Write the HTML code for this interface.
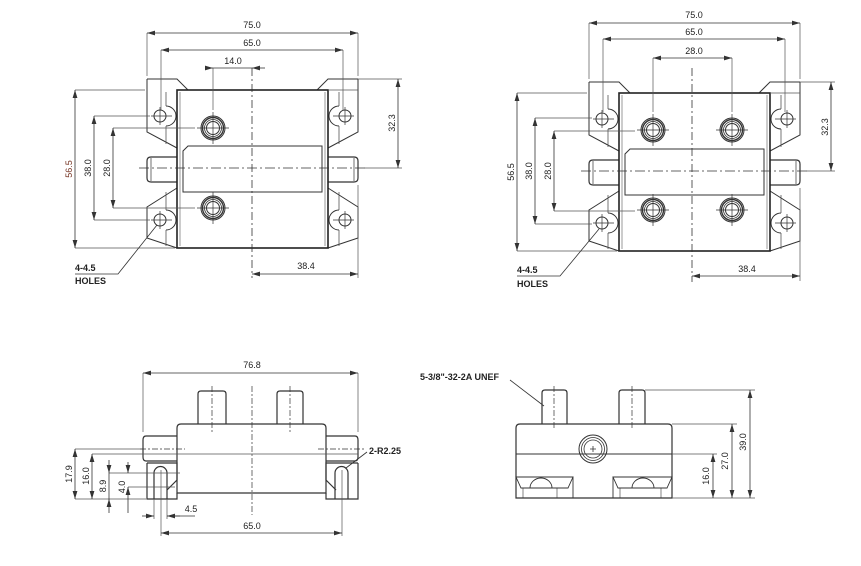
<!DOCTYPE html>
<html><head><meta charset="utf-8"><style>
html,body{margin:0;padding:0;background:#fff;}
svg{display:block;}
text{font-family:"Liberation Sans",sans-serif;font-size:9px;fill:#222;}
.b{font-weight:bold;}
</style></head><body>
<svg width="861" height="566" viewBox="0 0 861 566" xmlns="http://www.w3.org/2000/svg">
<defs>
<marker id="a" viewBox="0 0 10 6" refX="10" refY="3" markerWidth="8" markerHeight="5" orient="auto-start-reverse" markerUnits="userSpaceOnUse"><path d="M0,0 L10,3 L0,6 z" fill="#333"/></marker>
<g id="half">
 <path d="M147,79 L177,79 L188,90 M147,79 L147,132 L177,148 M177,188 L147,207 L147,238 L177,248" fill="none" stroke="#333" stroke-width="1"/>
 <circle cx="160" cy="116" r="6" fill="none" stroke="#333"/>
 <path d="M166,106 A10 10 0 0 1 166,126" fill="none" stroke="#333"/>
 <path d="M166,92 L166,106 M166,126 L166,144" stroke="#555" stroke-width="0.8"/>
 <circle cx="160" cy="220" r="6" fill="none" stroke="#333"/>
 <path d="M166,210 A10 10 0 0 1 166,230" fill="none" stroke="#333"/>
 <path d="M166,192 L166,210 M166,230 L166,246" stroke="#555" stroke-width="0.8"/>
 <path d="M151,116 L172,116 M160,107 L160,125 M151,220 L172,220 M160,211 L160,229" stroke="#333" stroke-width="0.7"/>
 <path d="M177,157 L151,157 Q147,157 147,161 L147,178 Q147,182 151,182 L177,182" fill="none" stroke="#333" stroke-width="1.2"/>
 <path d="M151,158 L151,181" stroke="#333" stroke-width="0.7"/>
</g>
<g id="tv">
 <use href="#half"/>
 <use href="#half" transform="matrix(-1,0,0,1,505,0)"/>
 <rect x="177" y="90" width="151" height="158" fill="none" stroke="#222" stroke-width="1.6"/>
 <path d="M180,92 L180,246 M325,92 L325,246" stroke="#555" stroke-width="0.6"/>
 <path d="M188,146 L322,146 L322,192 L183,192 L183,151 Z" fill="none" stroke="#333" stroke-width="1"/>
 <path d="M139,168 L366,168" stroke="#333" stroke-width="0.8" stroke-dasharray="10,3,2,3"/>
</g>
<g id="term">
 <circle r="12" fill="none" stroke="#333" stroke-width="1"/>
 <circle r="10.5" fill="none" stroke="#333" stroke-width="1.4"/>
 <circle r="8.5" fill="none" stroke="#333" stroke-width="0.8"/>
 <circle r="6.5" fill="none" stroke="#333" stroke-width="1"/>
 <path d="M-16,0 L16,0 M0,-16 L0,16" stroke="#333" stroke-width="0.7"/>
</g>
</defs>

<!-- ===== TOP LEFT ===== -->
<use href="#tv"/>
<use href="#term" x="213" y="128"/>
<use href="#term" x="213" y="208"/>
<path d="M252,68 L252,278" stroke="#333" stroke-width="0.8" stroke-dasharray="8,3,2,3"/>
<g stroke="#555" stroke-width="0.7" fill="none">
 <path d="M147,33 L147,76 M358,33 L358,76 M161,50 L161,110 M343,50 L343,110 M213,68 L213,110"/>
 <path d="M75,90 L145,90 M75,248 L175,248 M94,116 L150,116 M94,220 L150,220 M113,128 L195,128 M113,208 L195,208"/>
 <path d="M358,79 L402,79 M364,168 L402,168 M358,185 L358,278 M328,90 L358,90"/>
</g>
<g stroke="#333" stroke-width="0.8" fill="none">
 <path d="M147,33 L358,33" marker-start="url(#a)" marker-end="url(#a)"/>
 <path d="M161,50 L343,50" marker-start="url(#a)" marker-end="url(#a)"/>
 <path d="M207,68 L213,68" marker-end="url(#a)"/>
 <path d="M265,68 L252,68" marker-end="url(#a)"/>
 <path d="M213,68 L252,68"/>
 <path d="M75,90 L75,248" marker-start="url(#a)" marker-end="url(#a)"/>
 <path d="M94,116 L94,220" marker-start="url(#a)" marker-end="url(#a)"/>
 <path d="M113,128 L113,208" marker-start="url(#a)" marker-end="url(#a)"/>
 <path d="M398,79 L398,168" marker-start="url(#a)" marker-end="url(#a)"/>
 <path d="M252,274 L358,274" marker-start="url(#a)" marker-end="url(#a)"/>
 <path d="M157,225 L118,274 L75,274"/>
</g>
<text x="252" y="28" text-anchor="middle">75.0</text>
<text x="252" y="46" text-anchor="middle">65.0</text>
<text x="233" y="64" text-anchor="middle">14.0</text>
<text x="306" y="269" text-anchor="middle">38.4</text>
<text transform="translate(72,169) rotate(-90)" text-anchor="middle" style="fill:#7a3a2a">56.5</text>
<text transform="translate(91,168) rotate(-90)" text-anchor="middle">38.0</text>
<text transform="translate(110,168) rotate(-90)" text-anchor="middle">28.0</text>
<text transform="translate(395,123) rotate(-90)" text-anchor="middle">32.3</text>
<text x="75" y="271" class="b">4-4.5</text>
<text x="75" y="284" class="b">HOLES</text>

<!-- ===== TOP RIGHT ===== -->
<use href="#tv" transform="translate(442,3)"/>
<use href="#term" x="653" y="130"/>
<use href="#term" x="732" y="130"/>
<use href="#term" x="653" y="210"/>
<use href="#term" x="732" y="210"/>
<path d="M692,68 L692,282" stroke="#333" stroke-width="0.8" stroke-dasharray="8,3,2,3"/>
<g stroke="#555" stroke-width="0.7" fill="none">
 <path d="M589,23 L589,79 M800,23 L800,79 M603,39 L603,112 M785,39 L785,112 M653,58 L653,112 M732,58 L732,112"/>
 <path d="M517,93 L587,93 M517,251 L617,251 M535,118 L592,118 M535,224 L592,224 M554,131 L635,131 M554,211 L635,211"/>
 <path d="M800,82 L835,82 M806,171 L835,171 M800,188 L800,281 M770,93 L800,93"/>
</g>
<g stroke="#333" stroke-width="0.8" fill="none">
 <path d="M589,23 L800,23" marker-start="url(#a)" marker-end="url(#a)"/>
 <path d="M603,39 L785,39" marker-start="url(#a)" marker-end="url(#a)"/>
 <path d="M653,58 L732,58" marker-start="url(#a)" marker-end="url(#a)"/>
 <path d="M517,93 L517,251" marker-start="url(#a)" marker-end="url(#a)"/>
 <path d="M535,118 L535,224" marker-start="url(#a)" marker-end="url(#a)"/>
 <path d="M554,131 L554,211" marker-start="url(#a)" marker-end="url(#a)"/>
 <path d="M831,82 L831,171" marker-start="url(#a)" marker-end="url(#a)"/>
 <path d="M692,276 L800,276" marker-start="url(#a)" marker-end="url(#a)"/>
 <path d="M599,229 L560,276 L517,276"/>
</g>
<text x="694" y="18" text-anchor="middle">75.0</text>
<text x="694" y="35" text-anchor="middle">65.0</text>
<text x="694" y="54" text-anchor="middle">28.0</text>
<text x="747" y="272" text-anchor="middle">38.4</text>
<text transform="translate(514,172) rotate(-90)" text-anchor="middle">56.5</text>
<text transform="translate(532,171) rotate(-90)" text-anchor="middle">38.0</text>
<text transform="translate(551,171) rotate(-90)" text-anchor="middle">28.0</text>
<text transform="translate(828,127) rotate(-90)" text-anchor="middle">32.3</text>
<text x="517" y="273" class="b">4-4.5</text>
<text x="517" y="287" class="b">HOLES</text>

<!-- ===== BOTTOM LEFT ===== -->
<g stroke="#333" fill="none" stroke-width="1.2">
 <path d="M177,493 L177,428 Q177,424 181,424 L322,424 Q326,424 326,428 L326,493 Z"/>
 <path d="M198,424 L198,394 Q198,391 201,391 L223,391 Q226,391 226,394 L226,424"/>
 <path d="M277,424 L277,394 Q277,391 280,391 L300,391 Q303,391 303,394 L303,424"/>
 <path d="M177,436 L146,436 Q143,436 143,440 L143,457 Q143,461 146,461 L177,461"/>
 <path d="M326,436 L355,436 Q358,436 358,440 L358,457 Q358,461 355,461 L326,461"/>
 <path d="M147,463 L177,463 L177,480 L167,490 M147,463 L147,499 L177,499 L177,493"/>
 <path d="M358,463 L326,463 L326,480 L336,490 M358,463 L358,499 L326,499 L326,493"/>
 <path d="M154,499 L154,473 A6.5 6.5 0 0 1 167,473 L167,499"/>
 <path d="M335,499 L335,473 A6.5 6.5 0 0 1 348,473 L348,499"/>
</g>
<g stroke="#333" stroke-width="0.7" fill="none" stroke-dasharray="6,2,2,2">
 <path d="M212,386 L212,432 M290,386 L290,432 M252,386 L252,515"/>
 <path d="M140,449 L185,449 M318,449 L364,449"/>
</g>
<g stroke="#555" stroke-width="0.7" fill="none">
 <path d="M143,373 L143,432 M358,373 L358,432"/>
 <path d="M75,449 L142,449 M92,454 L358,454 M75,499 L146,499 M109,473 L180,473 M128,487 L175,487"/>
 <path d="M154,499 L154,519 M167,499 L167,519 M161,470 L161,536 M342,470 L342,536"/>
</g>
<g stroke="#333" stroke-width="0.8" fill="none">
 <path d="M143,373 L358,373" marker-start="url(#a)" marker-end="url(#a)"/>
 <path d="M75,449 L75,499" marker-start="url(#a)" marker-end="url(#a)"/>
 <path d="M92,454 L92,499" marker-start="url(#a)" marker-end="url(#a)"/>
 <path d="M109,460 L109,473" marker-end="url(#a)"/><path d="M109,513 L109,499" marker-end="url(#a)"/><path d="M109,473 L109,499"/>
 <path d="M128,462 L128,473" marker-end="url(#a)"/><path d="M128,513 L128,487" marker-end="url(#a)"/>
 <path d="M142,516 L154,516" marker-end="url(#a)"/><path d="M180,516 L167,516" marker-end="url(#a)"/><path d="M167,516 L195,516"/>
 <path d="M161,533 L342,533" marker-start="url(#a)" marker-end="url(#a)"/>
 <path d="M367,452 L346,468"/>
</g>
<text x="252" y="368" text-anchor="middle">76.8</text>
<text x="191" y="512" text-anchor="middle">4.5</text>
<text x="252" y="529" text-anchor="middle">65.0</text>
<text x="369" y="454" class="b">2-R2.25</text>
<text transform="translate(72,474) rotate(-90)" text-anchor="middle">17.9</text>
<text transform="translate(89,476) rotate(-90)" text-anchor="middle">16.0</text>
<text transform="translate(106,486) rotate(-90)" text-anchor="middle">8.9</text>
<text transform="translate(125,487) rotate(-90)" text-anchor="middle">4.0</text>

<!-- ===== BOTTOM RIGHT ===== -->
<g stroke="#333" fill="none" stroke-width="1.2">
 <path d="M516,498 L516,428 Q516,424 520,424 L668,424 Q672,424 672,428 L672,498 Z"/>
 <path d="M516,454 L672,454" stroke-width="1"/>
 <path d="M542,424 L542,393 Q542,390 545,390 L564,390 Q567,390 567,393 L567,424"/>
 <path d="M619,424 L619,393 Q619,390 622,390 L642,390 Q645,390 645,393 L645,424"/>
 <path d="M516,477 L573,477 L568,488 L521,488 Z M613,477 L672,477 L667,488 L618,488 Z" stroke-width="0.9"/>
 <path d="M530,488 A11 10 0 0 1 552,488 M632,488 A11 10 0 0 1 654,488" stroke-width="0.9"/>
 <path d="M523,488 L523,498 M557,488 L557,498 M620,488 L620,498 M661,488 L661,498" stroke-width="0.6"/>
 <path d="M573,477 L573,498 M613,477 L613,498" stroke-width="0.9"/>
 <circle cx="593" cy="449" r="14" stroke-width="1"/>
 <circle cx="593" cy="449" r="11.5" stroke-width="0.8"/>
 <circle cx="593" cy="449" r="9" stroke-width="0.8"/>
</g>
<path d="M590,449 L596,449 M593,446 L593,452" stroke="#333" stroke-width="0.8"/>
<g stroke="#333" stroke-width="0.7" fill="none" stroke-dasharray="6,2,2,2">
 <path d="M554,386 L554,430 M632,386 L632,430"/>
</g>
<g stroke="#555" stroke-width="0.7" fill="none">
 <path d="M645,390 L755,390 M672,424 L737,424 M672,454 L717,454 M672,498 L755,498"/>
</g>
<g stroke="#333" stroke-width="0.8" fill="none">
 <path d="M750,390 L750,498" marker-start="url(#a)" marker-end="url(#a)"/>
 <path d="M732,424 L732,498" marker-start="url(#a)" marker-end="url(#a)"/>
 <path d="M713,454 L713,498" marker-start="url(#a)" marker-end="url(#a)"/>
 <path d="M510,380 L544,406"/>
</g>
<text x="420" y="380" class="b">5-3/8"-32-2A UNEF</text>
<text transform="translate(746,442) rotate(-90)" text-anchor="middle">39.0</text>
<text transform="translate(728,461) rotate(-90)" text-anchor="middle">27.0</text>
<text transform="translate(709,476) rotate(-90)" text-anchor="middle">16.0</text>
</svg>
</body></html>
